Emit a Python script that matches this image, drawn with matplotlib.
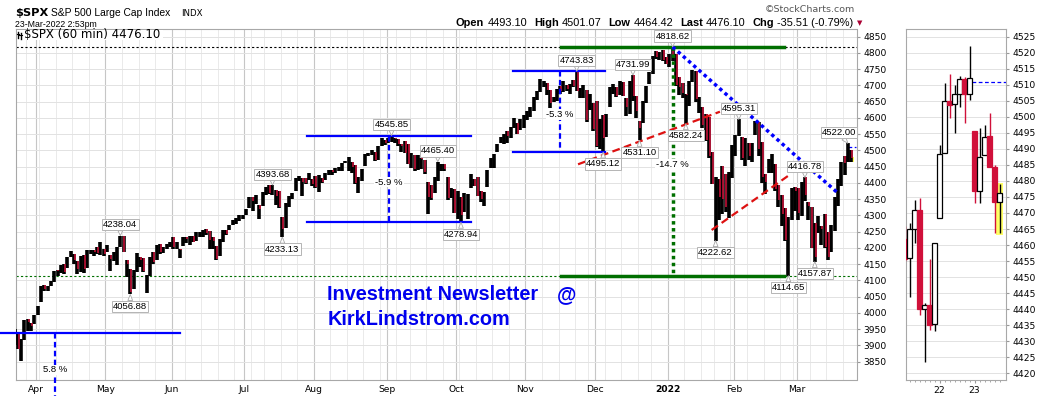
import numpy as np
import pandas as pd
import matplotlib
matplotlib.use('Agg')
import matplotlib.pyplot as plt
from matplotlib.patches import Rectangle
from matplotlib.lines import Line2D

# ---- daily data, S&P 500 ($SPX), 23-Mar-2021 .. 23-Mar-2022 ----
highs = np.array([
    3949.1, 3942.1, 3919.5, 3978.2, 3981.0, 3968.0, 3994.4,  # Mar 21
    4020.6, 4083.4, 4086.2, 4083.1, 4098.2, 4129.5, 4131.8, 4148.0, 4151.7, 4173.5, 4191.3,
    4180.8, 4159.2, 4175.0, 4179.6, 4194.2, 4194.2, 4193.4, 4201.5, 4218.8, 4198.1,  # Apr
    4209.4, 4179.0, 4187.7, 4202.7, 4238.0, 4236.4, 4162.0, 4134.7, 4131.6, 4183.4,
    4171.9, 4169.2, 4116.9, 4172.9, 4188.7, 4209.5, 4213.4, 4202.6, 4213.4, 4218.4,  # May
    4234.1, 4217.4, 4198.1, 4233.5, 4232.3, 4236.7, 4237.1, 4249.7, 4248.4, 4255.6, 4257.2,
    4251.9, 4232.3, 4204.8, 4226.2, 4255.8, 4256.6, 4271.3, 4286.1, 4292.1, 4300.5, 4302.4,  # Jun
    4320.7, 4355.4, 4356.5, 4361.9, 4330.9, 4372.0, 4386.7, 4392.4, 4393.7, 4377.8, 4375.1,
    4296.4, 4336.8, 4359.6, 4369.9, 4415.2, 4422.7, 4415.5, 4415.5, 4430.0, 4412.3,  # Jul
    4422.4, 4423.8, 4416.2, 4429.8, 4440.8, 4440.0, 4445.2, 4449.4, 4461.8, 4468.4, 4480.3,
    4466.0, 4454.3, 4418.6, 4444.4, 4489.9, 4492.8, 4501.0, 4493.8, 4513.3, 4537.4, 4531.4,  # Aug
    4537.1, 4545.9, 4539.6, 4535.4, 4519.9, 4529.9, 4520.5, 4492.0, 4485.7, 4486.9, 4475.8,
    4471.5, 4402.9, 4394.9, 4416.8, 4465.4, 4457.3, 4457.1, 4419.5, 4385.6, 4382.4,  # Sep
    4375.2, 4355.5, 4369.2, 4365.6, 4429.0, 4412.0, 4419.5, 4374.9, 4372.9, 4439.7, 4475.8,
    4488.8, 4520.4, 4540.9, 4551.4, 4559.7, 4572.6, 4598.5, 4584.6, 4597.6, 4608.1,  # Oct
    4620.3, 4635.2, 4663.5, 4683.0, 4718.5, 4714.9, 4708.5, 4684.9, 4663.5, 4688.5, 4697.4,
    4714.1, 4701.5, 4705.7, 4717.8, 4743.8, 4690.7, 4702.9, 4685.0, 4672.9, 4646.0,  # Nov
    4652.9, 4595.5, 4608.0, 4612.6, 4694.0, 4705.1, 4695.3, 4713.6, 4710.3, 4660.5, 4712.6,
    4732.0, 4666.7, 4591.8, 4651.1, 4697.7, 4740.7, 4791.5, 4807.0, 4804.1, 4808.9, 4786.8,  # Dec
    4796.6, 4818.6, 4797.7, 4725.0, 4708.0, 4673.0, 4714.1, 4749.0, 4744.1, 4665.1,
    4632.2, 4611.6, 4602.1, 4494.5, 4417.4, 4411.0, 4453.2, 4428.7, 4432.7, 4516.9,  # Jan 22
    4546.5, 4595.3, 4542.9, 4539.7, 4521.9, 4524.3, 4590.0, 4588.9, 4527.1, 4426.2,
    4472.8, 4489.6, 4456.9, 4394.6, 4362.1, 4324.0, 4294.7, 4385.3, 4388.8,  # Feb
    4384.1, 4401.5, 4416.8, 4342.1, 4327.0, 4276.9, 4299.4, 4268.3, 4303.0, 4247.6,
    4271.1, 4358.0, 4412.0, 4465.4, 4481.8, 4522.0, 4501.1,  # Mar 22
])
lows = np.array([
    3901.1, 3889.1, 3853.5, 3917.1, 3943.3, 3944.4, 3966.0,
    3992.8, 4034.4, 4068.1, 4068.3, 4082.5, 4095.5, 4114.8, 4124.4, 4120.9, 4139.1, 4170.8,
    4150.5, 4118.4, 4126.4, 4123.7, 4138.8, 4182.4, 4176.2, 4181.8, 4176.8, 4174.9,
    4188.0, 4128.6, 4160.9, 4147.3, 4201.6, 4188.1, 4111.5, 4056.9, 4074.0, 4126.9,
    4142.7, 4125.9, 4061.4, 4114.1, 4151.7, 4164.4, 4182.5, 4184.1, 4197.8, 4203.6,
    4197.6, 4198.3, 4167.6, 4206.1, 4215.7, 4208.4, 4218.7, 4220.3, 4232.6, 4234.1, 4238.4,
    4195.9, 4196.1, 4164.4, 4176.2, 4217.3, 4241.4, 4256.1, 4271.2, 4274.7, 4282.5, 4287.8,
    4300.4, 4323.0, 4314.4, 4335.3, 4289.4, 4329.9, 4364.0, 4366.9, 4362.9, 4333.7, 4322.5,
    4233.1, 4262.1, 4324.6, 4350.1, 4375.0, 4405.5, 4360.0, 4395.7, 4408.5, 4389.9,
    4385.1, 4372.4, 4400.2, 4407.9, 4425.8, 4424.1, 4430.0, 4436.4, 4435.5, 4460.2, 4437.7,
    4430.0, 4397.6, 4367.7, 4406.8, 4450.7, 4482.3, 4485.5, 4468.9, 4469.9, 4513.8, 4515.8,
    4522.0, 4524.7, 4522.5, 4513.0, 4493.9, 4492.1, 4457.7, 4445.7, 4435.5, 4438.4, 4443.9,
    4427.8, 4305.9, 4347.3, 4367.7, 4406.8, 4436.2, 4436.2, 4346.3, 4355.1, 4306.9,
    4288.5, 4278.9, 4309.9, 4290.5, 4384.7, 4389.9, 4360.7, 4342.1, 4329.9, 4386.8, 4447.5,
    4447.5, 4496.4, 4524.4, 4519.6, 4524.0, 4537.4, 4569.2, 4551.7, 4562.8, 4567.6,
    4595.1, 4604.0, 4621.2, 4655.7, 4681.3, 4694.4, 4670.9, 4630.9, 4648.3, 4650.8, 4672.9,
    4679.4, 4684.4, 4672.9, 4694.2, 4682.2, 4662.7, 4659.9, 4587.9, 4625.3, 4560.0,
    4510.3, 4504.7, 4495.1, 4541.1, 4632.3, 4674.5, 4665.9, 4670.2, 4667.6, 4606.5, 4611.2,
    4651.9, 4600.2, 4531.1, 4583.2, 4645.9, 4703.6, 4734.0, 4780.0, 4778.1, 4775.3, 4765.8,
    4758.2, 4774.3, 4699.4, 4671.3, 4662.7, 4582.2, 4638.3, 4709.6, 4650.3, 4614.8,
    4568.7, 4530.2, 4477.0, 4395.3, 4222.6, 4287.1, 4304.8, 4309.5, 4292.5, 4414.0,
    4483.5, 4544.3, 4470.4, 4451.5, 4471.5, 4465.4, 4547.0, 4484.3, 4401.4, 4364.8,
    4429.7, 4429.7, 4373.8, 4327.2, 4267.1, 4221.5, 4114.7, 4286.8, 4315.1,
    4286.4, 4297.0, 4345.6, 4285.0, 4199.9, 4157.9, 4245.3, 4209.8, 4200.0, 4161.7,
    4187.9, 4252.0, 4329.4, 4390.6, 4424.3, 4465.4, 4464.4,
])
closes = np.array([
    3910.5, 3889.1, 3909.5, 3974.5, 3971.1, 3958.6, 3972.9,
    4019.9, 4077.9, 4073.9, 4080.0, 4097.2, 4128.8, 4128.0, 4141.6, 4124.7, 4170.4, 4185.5,
    4163.3, 4134.9, 4173.4, 4135.0, 4180.2, 4187.6, 4186.7, 4183.2, 4211.5, 4181.2,
    4192.7, 4164.7, 4167.6, 4201.6, 4232.6, 4188.4, 4152.1, 4063.0, 4112.5, 4173.9,
    4163.3, 4127.8, 4115.7, 4159.1, 4155.9, 4197.1, 4188.1, 4196.0, 4200.9, 4204.1,
    4202.0, 4208.1, 4192.9, 4229.9, 4226.5, 4227.3, 4219.6, 4239.2, 4247.4, 4255.2, 4246.6,
    4223.7, 4221.9, 4166.5, 4224.8, 4246.4, 4241.8, 4266.5, 4280.7, 4290.6, 4291.8, 4297.5,
    4319.9, 4352.3, 4343.5, 4358.1, 4320.8, 4369.6, 4384.6, 4369.2, 4374.3, 4360.0, 4327.2,
    4258.5, 4323.1, 4358.7, 4367.5, 4411.8, 4422.3, 4401.5, 4400.6, 4419.2, 4395.3,
    4387.2, 4423.2, 4402.7, 4429.1, 4436.5, 4432.4, 4436.8, 4447.7, 4460.8, 4468.0, 4479.7,
    4448.1, 4400.3, 4405.8, 4441.7, 4479.5, 4486.2, 4496.2, 4470.0, 4509.4, 4528.8, 4522.7,
    4524.1, 4537.0, 4535.4, 4520.0, 4514.1, 4493.3, 4458.6, 4468.7, 4443.1, 4480.7, 4473.8,
    4433.0, 4357.7, 4354.2, 4395.6, 4449.0, 4455.5, 4443.1, 4352.6, 4359.5, 4307.5,
    4357.0, 4300.5, 4345.7, 4363.6, 4399.8, 4391.3, 4361.2, 4350.7, 4363.8, 4438.3, 4471.4,
    4486.5, 4519.6, 4536.2, 4549.8, 4544.9, 4566.5, 4574.8, 4551.7, 4596.4, 4605.4,
    4613.7, 4630.7, 4660.6, 4680.1, 4697.5, 4701.7, 4685.3, 4646.7, 4649.3, 4682.9, 4682.8,
    4700.9, 4688.7, 4704.5, 4698.0, 4682.9, 4690.7, 4701.5, 4594.6, 4655.3, 4567.0,
    4513.0, 4577.1, 4538.4, 4591.7, 4686.8, 4701.2, 4667.5, 4712.0, 4669.0, 4634.1, 4709.9,
    4668.7, 4620.6, 4568.0, 4649.2, 4696.6, 4725.8, 4791.2, 4786.4, 4793.1, 4778.7, 4766.2,
    4796.6, 4793.5, 4700.6, 4696.1, 4677.0, 4670.3, 4713.1, 4726.4, 4659.0, 4662.9,
    4577.1, 4532.8, 4482.7, 4397.9, 4410.1, 4356.5, 4349.9, 4326.5, 4431.9, 4515.6,
    4546.5, 4589.4, 4477.4, 4500.5, 4483.9, 4521.5, 4587.2, 4504.1, 4418.6, 4401.7,
    4471.1, 4475.0, 4380.3, 4348.9, 4304.8, 4225.5, 4288.7, 4384.7, 4373.9,
    4306.3, 4386.5, 4363.5, 4328.9, 4201.1, 4170.7, 4277.9, 4259.5, 4204.3, 4173.1,
    4262.5, 4357.9, 4411.7, 4463.1, 4461.2, 4511.6, 4476.1,
])
holidays = ['2021-04-02', '2021-05-31', '2021-07-05', '2021-09-06',
            '2021-11-25', '2021-12-24', '2022-01-17', '2022-02-21']

# labelled highs / lows
high_tags = [('2021-05-07', 4238.04), ('2021-07-14', 4393.68), ('2021-09-02', 4545.85),
             ('2021-09-23', 4465.40), ('2021-11-22', 4743.83), ('2021-12-16', 4731.99),
             ('2022-01-04', 4818.62), ('2022-02-02', 4595.31), ('2022-03-03', 4416.78),
             ('2022-03-22', 4522.00)]
low_tags = [('2021-05-12', 4056.88), ('2021-07-19', 4233.13), ('2021-10-04', 4278.94),
            ('2021-12-03', 4495.12), ('2021-12-20', 4531.10), ('2022-01-10', 4582.24),
            ('2022-01-24', 4222.62), ('2022-02-24', 4114.65), ('2022-03-08', 4157.87)]

# 60-min candles, 21-23 Mar 2022 (right panel)
c_open = [4461.8, 4455.9, 4464.9, 4471.0, 4440.0, 4441.2, 4435.3,
          4468.4, 4488.6, 4504.9, 4503.9, 4507.0, 4511.7, 4507.0,
          4495.7, 4477.0, 4488.0, 4494.0, 4484.4, 4473.5]
c_high = [4466.0, 4467.0, 4473.9, 4474.6, 4441.8, 4455.7, 4460.7,
          4491.2, 4510.5, 4513.5, 4509.9, 4512.7, 4512.4, 4522.0,
          4495.7, 4496.4, 4497.5, 4501.1, 4485.0, 4479.1]
c_low = [4455.0, 4443.7, 4460.6, 4438.2, 4423.6, 4433.5, 4433.3,
         4468.4, 4488.6, 4499.5, 4494.9, 4503.0, 4498.2, 4505.3,
         4473.0, 4473.2, 4488.0, 4484.4, 4463.9, 4463.7]
c_close = [4455.6, 4464.9, 4471.0, 4440.0, 4441.2, 4435.0, 4460.7,
           4488.3, 4504.9, 4503.8, 4507.0, 4511.7, 4507.0, 4512.0,
           4477.0, 4487.6, 4493.8, 4484.4, 4473.5, 4476.1]
c_days = [(7, '22'), (14, '23')]

RED = '#d0103a'
BLUE = '#0000ff'
GREEN = '#006f00'

W, H = 1050, 396
fig = plt.figure(figsize=(10.5, 3.96), dpi=100)


def fx(px):
    return px / W


def fy(py):
    return 1 - py / H


ax = fig.add_axes([fx(16), fy(380), (856.5 - 16) / W, (380 - 29.3) / H])
ax2 = fig.add_axes([fx(906), fy(380), 100 / W, (380 - 29.3) / H])

days = pd.bdate_range('2021-03-23', '2022-03-23')
days = days[~days.isin(pd.to_datetime(holidays))]
assert len(days) == len(closes) == len(highs) == len(lows)
pos = {d.strftime('%Y-%m-%d'): i for i, d in enumerate(days)}


def X(d, frac=0.5):
    return pos[d] + frac


x = np.arange(len(days)) + 0.5

# ---- main panel ----
ax.vlines(x, lows, highs, color='black', lw=2.6, zorder=3)
prev = np.r_[closes[0], closes[:-1]]
down = closes < prev
ax.vlines(x[down] + 0.25, closes[down], highs[down], color=RED, lw=1.1, zorder=4)
ax.add_patch(Rectangle((253.55, 4464.4), 0.7, 15, fc='#ffff55', ec='none', zorder=2))

month_pos, month_lab = [], []
week_pos = []
for i, d in enumerate(days):
    if i > 0 and d.month != days[i - 1].month:
        month_pos.append(i)
        month_lab.append('2022' if d.month == 1 else d.strftime('%b'))
    if i > 0 and d.weekday() <= days[i - 1].weekday():
        week_pos.append(i)

ax.set_xlim(0.95, 255.1)
ax.set_ylim(3793.7, 4872.8)
ax.set_xticks(month_pos)
ax.set_xticklabels(month_lab)
ax.set_xticks(week_pos, minor=True)
for t in ax.get_xticklabels():
    if t.get_text() == '2022':
        t.set_fontweight('bold')
ax.set_yticks(np.arange(3850, 4851, 50))
ax.yaxis.tick_right()
ax.tick_params(axis='x', which='both', length=0, labelsize=6.6, pad=3.5)
ax.tick_params(axis='y', length=2, color='#999999', labelsize=6.6, pad=3)
ax.grid(which='major', axis='x', color='#c6c6c6', lw=0.8)
ax.grid(which='minor', axis='x', color='#e6e6e6', lw=0.6)
ax.grid(which='major', axis='y', color='#e2e2e2', lw=0.7)
ax.set_axisbelow(True)
for s in ax.spines.values():
    s.set_color('#a8a8a8')
    s.set_linewidth(0.8)

# reference levels across the chart
ax.axhline(4818.62, color='black', lw=0.8, ls=(0, (2, 2)), zorder=2)
ax.axhline(4114.65, color=GREEN, lw=0.8, ls=(0, (2, 2)), zorder=2)
ax.plot([252.5, 255.1], [4511.6, 4511.6], color=BLUE, lw=0.9, ls=(0, (3, 2)), zorder=2)

# Sep pullback box
x0, x1 = X('2021-07-29', 0.0), X('2021-10-07')
ax.plot([x0, x1], [4545.85, 4545.85], color=BLUE, lw=1.6, zorder=5)
ax.plot([x0, x1], [4278.94, 4278.94], color=BLUE, lw=1.6, zorder=5)
xs = X('2021-09-01', 0.75)
ax.plot([xs, xs], [4545.85, 4278.94], color=BLUE, lw=1.6, ls=(0, (2.5, 1.5)), zorder=5)
# Nov pullback box
x0, x1 = X('2021-10-26', 0.2), X('2021-12-06', 0.1)
ax.plot([x0, x1], [4743.83, 4743.83], color=BLUE, lw=1.6, zorder=5)
ax.plot([x0, x1], [4495.12, 4495.12], color=BLUE, lw=1.6, zorder=5)
xn = X('2021-11-15')
ax.plot([xn, xn], [4743.83, 4495.12], color=BLUE, lw=1.6, ls=(0, (2.5, 1.5)), zorder=5)
# correction range
x0, x1 = X('2021-11-15', 0.8), X('2022-02-23', 0.2)
ax.plot([x0, x1], [4818.62, 4818.62], color=GREEN, lw=2.5, zorder=5)
ax.plot([x0, x1], [4114.65, 4114.65], color=GREEN, lw=2.5, zorder=5)
xj = X('2022-01-04')
ax.plot([xj, xj], [4818.62, 4114.65], color=GREEN, lw=2.5, ls=(0, (1, 1)), zorder=5)
# trend lines
ax.plot([xj, X('2022-03-17', 0.2)], [4818.62, 4371.4], color=BLUE, lw=2.5,
        ls=(0, (1, 1)), zorder=5)
ax.plot([X('2021-11-22', 0.9), X('2022-01-25', 0.8)], [4457.4, 4619.2], color='#dd1111',
        lw=1.6, ls=(0, (3.5, 2)), zorder=5)
ax.plot([X('2022-01-21', 0.3), X('2022-02-25', 0.2)], [4255.2, 4427.5], color='#dd1111',
        lw=1.6, ls=(0, (3.5, 2)), zorder=5)
# March 2021 level
ax.plot([-3.9, 50.55], [3936.8, 3936.8], color=BLUE, lw=1.6, zorder=5, clip_on=False)
ax.plot([12.75, 12.75], [3936.8, 3744.0], color=BLUE, lw=1.6, ls=(0, (2.5, 1.5)),
        zorder=5, clip_on=False)

pct = dict(fontsize=6.8, family='Liberation Sans', ha='center', va='center', zorder=7,
           bbox=dict(boxstyle='square,pad=0.1', fc='white', ec='none'))
ax.text(xs, 4402.9, '-5.9 %', **pct)
ax.text(xn, 4611.8, '-5.3 %', **pct)
ax.text(xj, 4457.7, '-14.7 %', **pct)
ax.text(12.75, 3824.5, '5.8 %', **pct)


def tag(d, v, up, dx=0):
    ax.annotate(f'{v:.2f}', xy=(X(d), v), xytext=(dx, 7.8 if up else -8.6),
                textcoords='offset points', ha='center', va='center', fontsize=6.8,
                family='Liberation Sans', zorder=8,
                bbox=dict(boxstyle='square,pad=0.12', fc='white', ec='#b4b4b4', lw=0.7),
                arrowprops=dict(arrowstyle='wedge,tail_width=0.5', fc='white',
                                ec='#a8a8a8', lw=0.6, shrinkA=0, shrinkB=0))


for d, v in high_tags:
    tag(d, v, True, dx=-6.5 if d == '2022-03-22' else 0)
for d, v in low_tags:
    tag(d, v, False)

# ---- right panel: 60-min candles ----
for k in range(len(c_open)):
    o, hh, ll, c = c_open[k], c_high[k], c_low[k], c_close[k]
    up = c >= o
    col = 'black' if up else RED
    if k == 19:
        ax2.add_patch(Rectangle((18.3, 4463.1), 1.46, 16.4, fc='#ffff66', ec='none', zorder=1))
    ax2.vlines(k, ll, hh, color=col, lw=1.0, zorder=3)
    ax2.add_patch(Rectangle((k - 0.43, min(o, c)), 0.86, max(abs(c - o), 0.35),
                            fc='white' if up else RED, ec=col, lw=0.9, zorder=4))
ax2.plot([13.5, 20.3], [4511.0, 4511.0], color=BLUE, lw=0.9, ls=(0, (3, 2)), zorder=2)
ax2.set_xlim(0.3, 20.3)
ax2.set_ylim(4417.9, 4527.3)
ax2.set_yticks(np.arange(4420, 4526, 5))
ax2.yaxis.tick_right()
ax2.set_xticks([k for k, _ in c_days])
ax2.set_xticklabels([s for _, s in c_days])
ax2.set_xticks(range(1, 20), minor=True)
ax2.tick_params(axis='x', which='major', length=2.5, color='#999999', labelsize=6.6, pad=2)
ax2.tick_params(axis='x', which='minor', length=1.5, color='#999999')
ax2.tick_params(axis='y', length=2, color='#999999', labelsize=6.6, pad=3)
ax2.grid(axis='y', color='#e2e2e2', lw=0.7)
ax2.set_axisbelow(True)
for s in ax2.spines.values():
    s.set_color('#a8a8a8')
    s.set_linewidth(0.8)

# ---- header texts ----
fig.text(fx(15), fy(16), '$SPX', fontsize=8.2, fontweight='bold', family='DejaVu Sans')
fig.text(fx(51), fy(16), 'S&P 500 Large Cap Index', fontsize=7.4, family='Liberation Sans')
fig.text(fx(181), fy(16), 'INDX', fontsize=6.2, family='DejaVu Sans')
fig.text(fx(15), fy(27), '23-Mar-2022 2:53pm', fontsize=6.3, family='Liberation Sans')
fig.text(fx(855), fy(12), '\u00a9StockCharts.com', fontsize=6.8, family='DejaVu Sans',
         color='#555555', ha='right')

fig.add_artist(Rectangle((fx(16.6), fy(40)), (146) / W, 10.4 / H, transform=fig.transFigure,
                         fc='white', ec='none', zorder=3))
for lx, y0, y1 in [(18.0, 31.5, 38.0), (20.5, 32.5, 38.5)]:
    fig.add_artist(Line2D([fx(lx), fx(lx)], [fy(y0), fy(y1)], color='black', lw=1.0, zorder=4))
    fig.add_artist(Line2D([fx(lx - 1.2), fx(lx + 1.2)], [fy(y0 + 2.5), fy(y0 + 2.5)],
                          color='black', lw=0.8, zorder=4))
fig.text(fx(23.5), fy(38.5), '$SPX (60 min) 4476.10', fontsize=8.5, family='DejaVu Sans',
         zorder=5)

renderer = fig.canvas.get_renderer()
parts = [('Open', True, 3), ('4493.10', False, 7), ('High', True, 3), ('4501.07', False, 7),
         ('Low', True, 3), ('4464.42', False, 7), ('Last', True, 3), ('4476.10', False, 7),
         ('Chg', True, 3), ('-35.51 (-0.79%)', False, 3)]
xx = 456
for s, bold, gap in parts:
    t = fig.text(fx(xx), fy(25.5), s, fontsize=7.9, family='Liberation Sans',
                 fontweight='bold' if bold else 'normal')
    xx += t.get_window_extent(renderer).width + gap
fig.text(fx(xx), fy(25), '\u25bc', fontsize=5, color='#aa0033', family='DejaVu Sans')

# newsletter text
nl = dict(fontsize=14.3, fontweight='bold', family='Liberation Sans', color='#0000ee')
fig.text(fx(327), fy(300), 'Investment Newsletter', **nl)
fig.text(fx(557), fy(300), '@', **nl)
fig.text(fx(328), fy(325), 'KirkLindstrom.com', **nl)

fig.savefig('out.png', dpi=100)
